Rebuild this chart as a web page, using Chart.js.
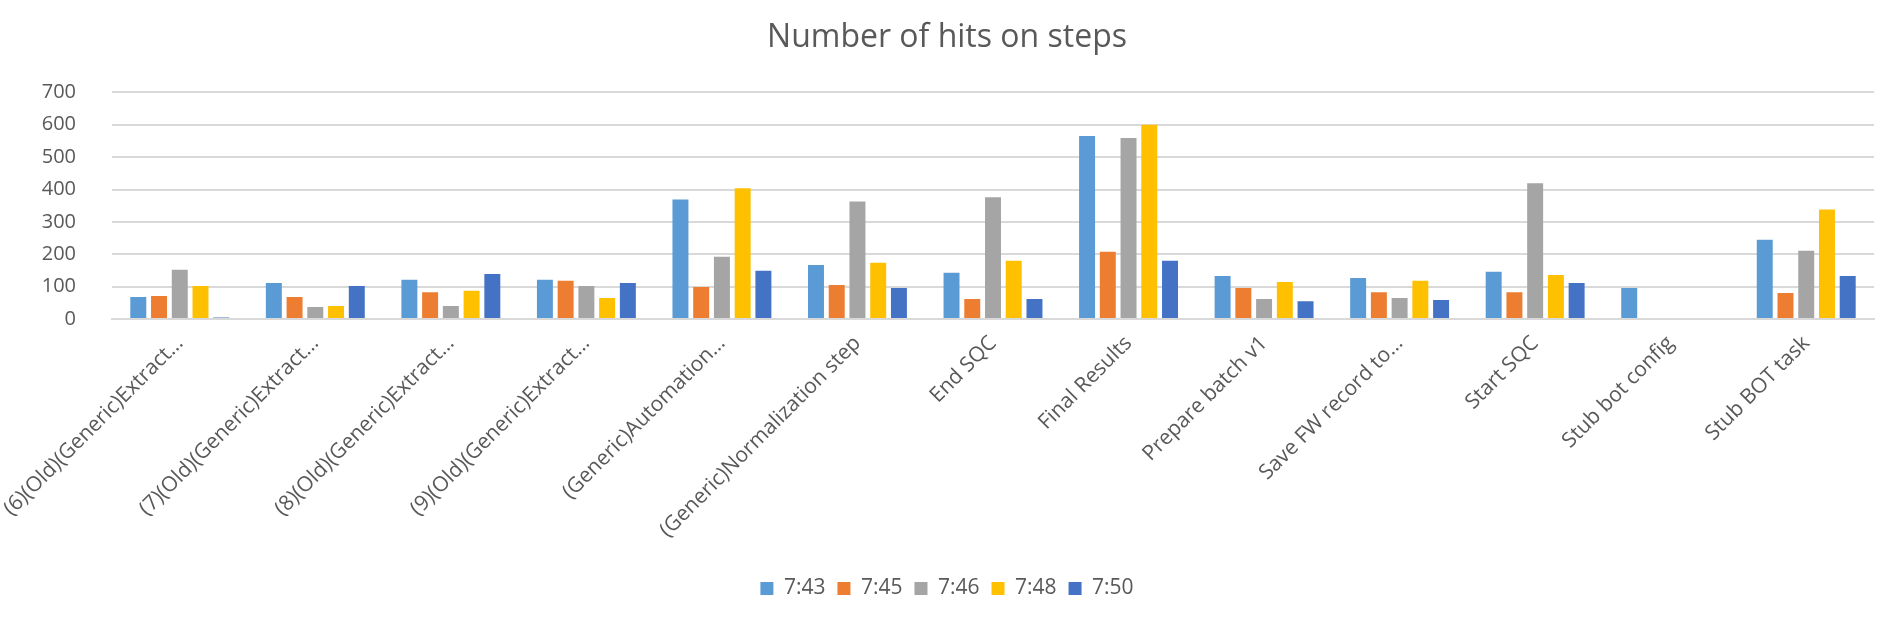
<!DOCTYPE html>
<html>
<head>
<meta charset="utf-8">
<script src="https://cdn.jsdelivr.net/npm/chart.js@4.4.0/dist/chart.umd.min.js"></script>
<style>
  html, body { margin: 0; padding: 0; background: #ffffff; }
  canvas { display: block; }
</style>
</head>
<body>
<canvas id="hitsChart" width="1884" height="617"></canvas>
<script>
// Categories (x axis)
const steps = [
    '(6)(Old)(Generic)Extract…',
    '(7)(Old)(Generic)Extract…',
    '(8)(Old)(Generic)Extract…',
    '(9)(Old)(Generic)Extract…',
    '(Generic)Automation…',
    '(Generic)Normalization step',
    'End SQC',
    'Final Results',
    'Prepare batch v1',
    'Save FW record to…',
    'Start SQC',
    'Stub bot config',
    'Stub BOT task'
];

// Series values
const hits743 = [68, 111, 121, 121, 369, 167, 143, 565, 133, 127, 146, 96, 245];
const hits745 = [71, 68, 83, 118, 99, 105, 62, 208, 96, 83, 83, null, 80];
const hits746 = [152, 37, 40, 102, 192, 363, 376, 559, 62, 65, 419, null, 211];
const hits748 = [102, 40, 87, 65, 404, 174, 180, 600, 114, 118, 136, null, 338];
const hits750 = [5, 102, 139, 111, 149, 96, 62, 180, 55, 59, 111, null, 133];

const seriesNames = ['7:43', '7:45', '7:46', '7:48', '7:50'];
const seriesColors = ['#5B9BD5', '#ED7D31', '#A5A5A5', '#FFC000', '#4472C4'];
const yTicks = [0, 100, 200, 300, 400, 500, 600, 700];

const textColor = '#595959';
const fontFamily = "'Open Sans', 'Noto Sans', sans-serif";

const allSeries = [hits743, hits745, hits746, hits748, hits750];

const ctx = document.getElementById('hitsChart').getContext('2d');

new Chart(ctx, {
    type: 'bar',
    data: {
        labels: steps,
        datasets: allSeries.map((values, i) => ({
            label: seriesNames[i],
            data: values,
            backgroundColor: seriesColors[i],
            borderWidth: 0,
            categoryPercentage: 0.765,
            barPercentage: 0.77
        }))
    },
    options: {
        responsive: false,
        animation: false,
        devicePixelRatio: 1,
        layout: {
            padding: { left: 20, right: 10, top: 0, bottom: 8 }
        },
        plugins: {
            title: {
                display: true,
                text: 'Number of hits on steps',
                color: textColor,
                font: { family: fontFamily, size: 32, weight: 'normal' },
                padding: { top: 19, bottom: 35 }
            },
            legend: {
                position: 'bottom',
                labels: {
                    color: textColor,
                    font: { family: fontFamily, size: 21 },
                    boxWidth: 13,
                    boxHeight: 13,
                    padding: 12
                }
            },
            tooltip: { enabled: false }
        },
        scales: {
            x: {
                grid: { display: false },
                border: { display: true, color: '#D9D9D9', width: 2 },
                ticks: {
                    color: textColor,
                    font: { family: fontFamily, size: 21 },
                    maxRotation: 45,
                    minRotation: 45,
                    autoSkip: false,
                    padding: 4
                },
                afterFit: function (scale) {
                    // keep the plot area where the reference has it
                    scale.paddingLeft = 0;
                    scale.paddingRight = 0;
                    scale.height = 247;
                }
            },
            y: {
                min: 0,
                max: 700,
                grid: { color: '#D9D9D9', lineWidth: 2, drawTicks: false },
                border: { display: false },
                afterBuildTicks: function (scale) {
                    scale.ticks = yTicks.map(v => ({ value: v }));
                },
                ticks: {
                    color: textColor,
                    font: { family: fontFamily, size: 20 },
                    padding: 36
                },
                afterFit: function (scale) {
                    scale.width = 92;
                }
            }
        }
    }
});
</script>
</body>
</html>
